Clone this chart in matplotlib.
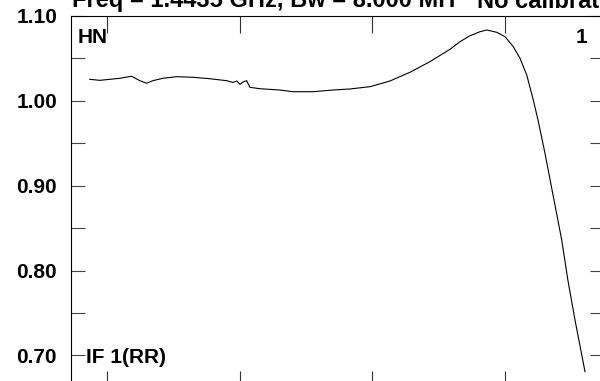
import matplotlib
matplotlib.use('Agg')
import matplotlib.pyplot as plt
from matplotlib.ticker import MultipleLocator, FixedLocator

# frequency (MHz) and normalised IF amplitude
freq = [1439.744, 1439.894, 1440.196, 1440.372, 1440.497, 1440.598, 1440.693,
        1440.844, 1441.050, 1441.296, 1441.552, 1441.804, 1441.899, 1441.959,
        1442.005, 1442.050, 1442.106, 1442.155, 1442.306, 1442.607, 1442.803,
        1443.105, 1443.406, 1443.662, 1443.964, 1444.265, 1444.567, 1444.868,
        1445.170, 1445.320, 1445.471, 1445.622, 1445.723, 1445.874, 1445.999,
        1446.124, 1446.225, 1446.326, 1446.425, 1446.500, 1446.601, 1446.727,
        1446.853, 1446.943, 1447.053, 1447.204]
amp = [1.0254, 1.0242, 1.0266, 1.0290, 1.0238, 1.0207, 1.0238,
       1.0266, 1.0285, 1.0278, 1.0261, 1.0238, 1.0217, 1.0234,
       1.0195, 1.0222, 1.0238, 1.0160, 1.0143, 1.0128, 1.0108,
       1.0108, 1.0128, 1.0140, 1.0167, 1.0234, 1.0337, 1.0462,
       1.0608, 1.0697, 1.0768, 1.0815, 1.0835, 1.0808, 1.0756,
       1.0638, 1.0502, 1.0305, 1.0010, 0.9760, 0.9382, 0.8871,
       0.8361, 0.7901, 0.7418, 0.6809]

xticks = [1440, 1442, 1444, 1446]
yticks = [0.70, 0.80, 0.90, 1.00, 1.10]
ylabels = ['0.70', '0.80', '0.90', '1.00', '1.10']

title = 'Freq = 1.4435 GHz, Bw = 8.000 MH'
title2 = 'No calibration'

plt.rcParams['font.family'] = ['Liberation Sans', 'DejaVu Sans']
plt.rcParams['font.weight'] = 'bold'

W, H = 600, 381
fig = plt.figure(figsize=(6, 3.81), dpi=100)
# frame runs past the bottom and right edge of the picture
ax = fig.add_axes([71 / W, 1 - 388 / H, (604 - 71) / W, (388 - 16) / H])

ax.plot(freq, amp, color='black', lw=0.8)

ax.set_xlim(1439.46, 1447.49)
ax.set_ylim(0.6617, 1.10)

ax.xaxis.set_major_locator(FixedLocator(xticks))
ax.set_xticklabels([])
ax.set_yticks(yticks)
ax.set_yticklabels(ylabels, fontsize=15, fontweight='bold')
ax.yaxis.set_minor_locator(MultipleLocator(0.05))

ax.tick_params(axis='x', which='both', direction='in', top=True, bottom=True,
               length=12, width=0.8, color='#333333')
ax.tick_params(axis='y', which='both', direction='in', left=True, right=True,
               length=10, width=0.8, color='#444444', pad=10)
for s in ax.spines.values():
    s.set_linewidth(0.8)
    s.set_color('black')

def px_text(x, y, s, size=15, **kw):
    fig.text(x / W, 1 - y / H, s, fontsize=size, fontweight='bold', va='baseline', **kw)

px_text(78, 43, 'HN')
px_text(587, 43, '1', ha='right')
px_text(86, 363, 'IF 1(RR)')
# title line is cut by the top edge in the original
px_text(72, 7.5, title, size=17)
px_text(477, 7.5, title2, size=17)

fig.savefig('out.png', dpi=100)
